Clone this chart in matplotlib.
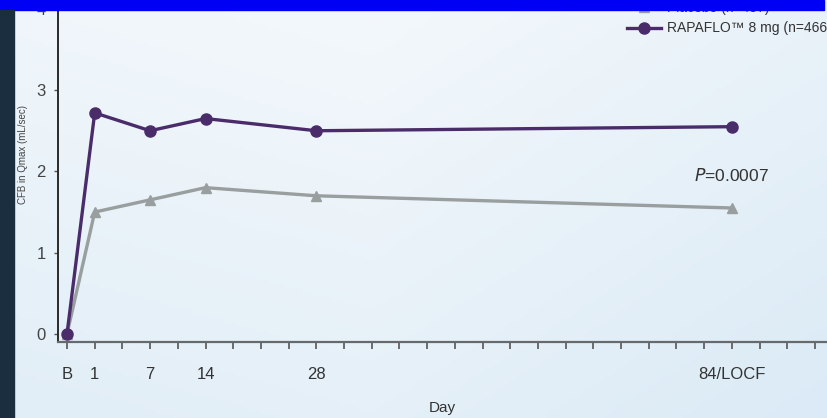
import numpy as np
import matplotlib
matplotlib.use('Agg')
import matplotlib.pyplot as plt
from matplotlib.patches import Rectangle

plt.rcParams['font.family'] = ['Liberation Sans', 'DejaVu Sans']

# Visit positions on an evenly ticked day axis (one tick per slot)
day_labels = ['B', '1', '7', '14', '28', '84/LOCF']
day_pos = [0, 1, 3, 5, 9, 24]

placebo = [0.0, 1.50, 1.65, 1.80, 1.70, 1.55]
rapaflo = [0.0, 2.72, 2.50, 2.65, 2.50, 2.55]

placebo_label = 'Placebo (n=457)'
rapaflo_label = 'RAPAFLO\u2122 8 mg (n=466)'
p_value = '0.0007'

PURPLE = '#4a2c6a'
GREY = '#999e9f'

W, H = 827, 418
fig = plt.figure(figsize=(W / 100, H / 100), dpi=100)

# soft bluish backdrop
bg = fig.add_axes([0, 0, 1, 1], zorder=-10)
gx, gy = np.meshgrid(np.linspace(0, 1, 200), np.linspace(0, 1, 100))
shade = 0.55 * gy + 0.25 * (1 - np.abs(gx - 0.45) * 2) + 0.2 * (1 - gx)
c0 = np.array([0.86, 0.92, 0.965])
c1 = np.array([0.965, 0.978, 0.988])
img = c0 + (c1 - c0) * np.clip(shade, 0, 1)[..., None]
bg.imshow(img, aspect='auto', extent=[0, 1, 0, 1], origin='lower')
bg.axis('off')

x0, x_axis_y, zero_y, unit_x, unit_y = 67, 342, 334, 27.7, 81.3
left = 58
ax = fig.add_axes([left / W, (H - x_axis_y) / H, (W - left) / W, x_axis_y / H])
ax.patch.set_alpha(0)
ax.set_xlim((left - x0) / unit_x, (W - x0) / unit_x)
ax.set_ylim(-(x_axis_y - zero_y) / unit_y, zero_y / unit_y)

ax.plot(day_pos, placebo, color=GREY, lw=2.4, marker='^', ms=7,
        mec=GREY, mfc=GREY, label=placebo_label, zorder=3)
ax.plot(day_pos, rapaflo, color=PURPLE, lw=2.4, marker='o', ms=8,
        mec=PURPLE, mfc=PURPLE, label=rapaflo_label, zorder=4)

for s in ('top', 'right'):
    ax.spines[s].set_visible(False)
ax.spines['left'].set_color('#2a2a2a')
ax.spines['left'].set_linewidth(1.4)
ax.spines['bottom'].set_color('#666a6c')
ax.spines['bottom'].set_linewidth(1.6)

ax.set_xticks(range(0, 28))
labels = [''] * 28
for p, lab in zip(day_pos, day_labels):
    labels[p] = lab
ax.set_xticklabels(labels, fontsize=12, color='#333333')
ax.tick_params(axis='x', length=5, width=1.2, color='#555555', pad=13,
               direction='out')
ax.set_yticks([0, 1, 2, 3, 4])
ax.set_yticklabels(['0', '1', '2', '3', '4'], fontsize=12, color='#444444')
ax.tick_params(axis='y', length=3, width=1, color='#555555', pad=6)

ax.set_xlabel('Day', fontsize=11, color='#333333', labelpad=14)
ax.set_ylabel('CFB in Qmax (mL/sec)', fontsize=7, color='#444444')
ax.yaxis.set_label_coords(-(left - 28) / (W - left), (x_axis_y - 155) / x_axis_y)

ax.text(24, 1.95, r'$\it{P}$=' + p_value, fontsize=12.5, color='#333333',
        ha='center', va='center')

ax.legend(loc='upper left', bbox_to_anchor=((623 - left) / (W - left), 1.0 + 3 / x_axis_y),
          frameon=False, fontsize=10, handlelength=2.4, handletextpad=0.45,
          labelspacing=0.45, borderaxespad=0.0, borderpad=0.3,
          labelcolor='#333333')

# page furniture: blue banner on top, dark strip on the left
fig.add_artist(Rectangle((0, 1 - 10 / H), 824 / W, 10 / H,
                         transform=fig.transFigure, color='#0000f4', zorder=20))
fig.add_artist(Rectangle((0, 0), 14 / W, 1 - 10 / H,
                         transform=fig.transFigure, color='#1b2e3f', zorder=20))

fig.savefig('out.png', dpi=100)
